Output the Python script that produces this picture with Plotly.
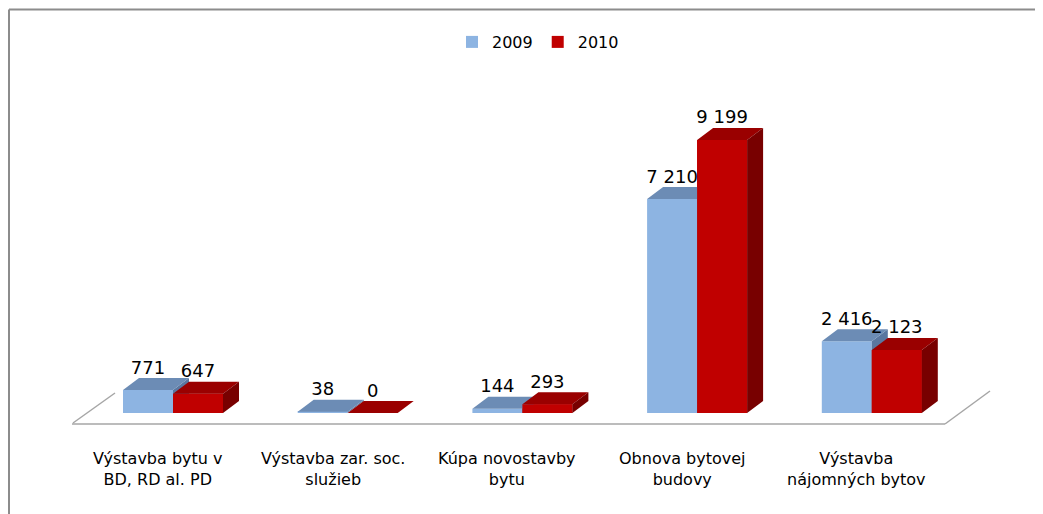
import plotly.graph_objects as go

categories = [
    "Výstavba bytu v<br>BD, RD al. PD",
    "Výstavba zar. soc.<br>služieb",
    "Kúpa novostavby<br>bytu",
    "Obnova bytovej<br>budovy",
    "Výstavba<br>nájomných bytov",
]
series_names = ["2009", "2010"]
values_2009 = [771, 38, 144, 7210, 2416]
values_2010 = [647, 0, 293, 9199, 2123]

# colours
BLUE_FRONT = "#8DB4E2"
BLUE_TOP = "#6C8CB5"
BLUE_SIDE = "#5A77A0"
RED_FRONT = "#C00000"
RED_TOP = "#9A0000"
RED_SIDE = "#780000"

# geometry (target positions given in browser-window pixels;
# the page body adds an 8px margin, so subtract it)
OFF = 8
W, H = 1043, 514
ML, MR, MT, MB = 42, 51, 52, 82
PX_PER_CAT = 174.7
CAT0_PX = 173 - OFF
PX_PER_UNIT = 0.02968
ZERO_PX = 413 - OFF

plot_w = W - ML - MR
plot_h = H - MT - MB
x_lo = (ML - CAT0_PX) / PX_PER_CAT
x_hi = x_lo + plot_w / PX_PER_CAT
y_hi = (ZERO_PX - MT) / PX_PER_UNIT
y_lo = y_hi - plot_h / PX_PER_UNIT

BAR_W = 50 / PX_PER_CAT          # width of one bar in category units
DX = 16 / PX_PER_CAT             # 3D depth offsets
DY = 12 / PX_PER_UNIT


def fmt(v):
    return f"{v:,}".replace(",", " ")


def px2x(px):
    return (px - OFF - CAT0_PX) / PX_PER_CAT


def px2y(py):
    return (ZERO_PX - (py - OFF)) / PX_PER_UNIT


def ppx(px):
    return (px - OFF - ML) / plot_w


def ppy(py):
    return (H - MB - (py - OFF)) / plot_h


def top_face(x0, x1, v):
    return [x0, x1, x1 + DX, x0 + DX, x0, None], [v, v, v + DY, v + DY, v, None]


def side_face(x1, v):
    return [x1, x1, x1 + DX, x1 + DX, x1, None], [0, v, v + DY, DY, 0, None]


def front_face(x0, x1, v):
    return [x0, x1, x1, x0, x0, None], [0, 0, v, v, 0, None]


fig = go.Figure()
idx = list(range(len(categories)))

fig.add_trace(go.Bar(x=idx, y=values_2009, name=series_names[0],
                     marker=dict(color=BLUE_FRONT, line=dict(width=0))))
fig.add_trace(go.Bar(x=idx, y=values_2010, name=series_names[1],
                     marker=dict(color=RED_FRONT, line=dict(width=0))))


def poly_trace(xs, ys, color):
    return go.Scatter(x=xs, y=ys, mode="lines", fill="toself", fillcolor=color,
                      line=dict(width=0, color=color), showlegend=False,
                      hoverinfo="skip")


# blue faces
bx, by, sx, sy = [], [], [], []
for i, v in zip(idx, values_2009):
    a, b = top_face(i - BAR_W, i, v)
    bx += a; by += b
    a, b = side_face(i, v)
    sx += a; sy += b
fig.add_trace(poly_trace(sx, sy, BLUE_SIDE))
fig.add_trace(poly_trace(bx, by, BLUE_TOP))

# red faces (front re-drawn on top of blue depth faces)
fx, fy, tx, ty, rx, ry = [], [], [], [], [], []
for i, v in zip(idx, values_2010):
    a, b = front_face(i, i + BAR_W, v)
    fx += a; fy += b
    a, b = top_face(i, i + BAR_W, v)
    tx += a; ty += b
    a, b = side_face(i + BAR_W, v)
    rx += a; ry += b
fig.add_trace(poly_trace(fx, fy, RED_FRONT))
fig.add_trace(poly_trace(tx, ty, RED_TOP))
fig.add_trace(poly_trace(rx, ry, RED_SIDE))

# data labels
lab_font = dict(family="DejaVu Sans", size=18, color="#000000")
fig.add_trace(go.Scatter(
    x=[i - BAR_W / 2 for i in idx], y=[v + DY for v in values_2009],
    mode="text", text=[fmt(v) for v in values_2009], textposition="top center",
    textfont=lab_font, showlegend=False, hoverinfo="skip", cliponaxis=False))
fig.add_trace(go.Scatter(
    x=[i + BAR_W / 2 for i in idx], y=[v + DY for v in values_2010],
    mode="text", text=[fmt(v) for v in values_2010], textposition="top center",
    textfont=lab_font, showlegend=False, hoverinfo="skip", cliponaxis=False))

# floor lines
floor_col = "#A6A6A6"
shapes = [
    dict(type="line", xref="x", yref="y", x0=px2x(72), y0=px2y(424),
         x1=px2x(945), y1=px2y(424), line=dict(color=floor_col, width=1.5)),
    dict(type="line", xref="x", yref="y", x0=px2x(73), y0=px2y(423),
         x1=px2x(115), y1=px2y(393), line=dict(color=floor_col, width=1.5)),
    dict(type="line", xref="x", yref="y", x0=px2x(945), y0=px2y(424),
         x1=px2x(990), y1=px2y(391), line=dict(color=floor_col, width=1.5)),
]

# outer border (left and top)
shapes += [
    dict(type="line", xref="paper", yref="paper", x0=ppx(9), y0=ppy(9.5),
         x1=ppx(9), y1=ppy(530), line=dict(color="#8C8C8C", width=2)),
    dict(type="line", xref="paper", yref="paper", x0=ppx(9), y0=ppy(9.5),
         x1=ppx(1060), y1=ppy(9.5), line=dict(color="#8C8C8C", width=2)),
]

annotations = []
shift = 15 / PX_PER_CAT
for i, c in zip(idx, categories):
    annotations.append(dict(
        x=i - shift, y=ppy(447), xref="x", yref="paper", text=c,
        showarrow=False, xanchor="center", yanchor="top", align="center",
        font=dict(family="DejaVu Sans", size=16, color="#000000")))

fig.update_layout(
    width=W, height=H,
    margin=dict(l=ML, r=MR, t=MT, b=MB),
    paper_bgcolor="white", plot_bgcolor="white",
    barmode="group", bargap=1 - 2 * BAR_W, bargroupgap=0,
    showlegend=True,
    legend=dict(orientation="h", x=ppx(538), xanchor="center",
                y=ppy(25), yanchor="top", itemwidth=30,
                font=dict(family="DejaVu Sans", size=16, color="#000000"),
                bgcolor="rgba(0,0,0,0)"),
    xaxis=dict(range=[x_lo, x_hi], showgrid=False, zeroline=False,
               showticklabels=False, showline=False, fixedrange=True),
    yaxis=dict(range=[y_lo, y_hi], showgrid=False, zeroline=False,
               showticklabels=False, showline=False, fixedrange=True),
    shapes=shapes,
    annotations=annotations,
)

fig.write_html("out.html")
